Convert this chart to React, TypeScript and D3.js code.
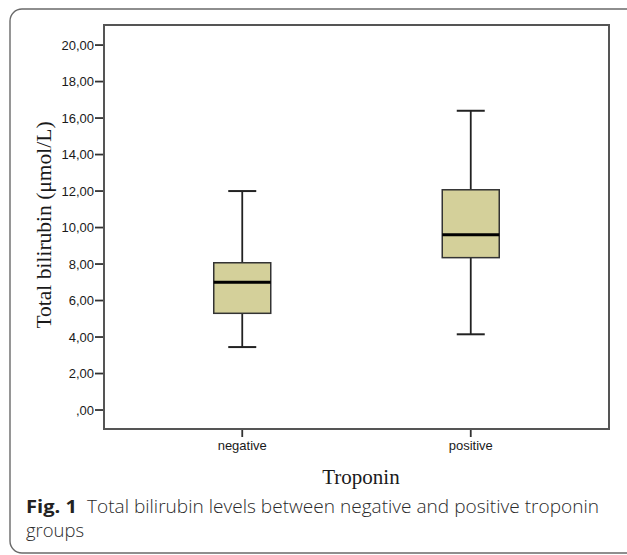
import React from "react";
import * as d3 from "d3";

const categories = ["negative", "positive"];
const whiskerLow = [3.45, 4.15];
const q1 = [5.3, 8.35];
const medians = [7.0, 9.6];
const q3 = [8.07, 12.07];
const whiskerHigh = [12.0, 16.4];
const yTicks = [0, 2, 4, 6, 8, 10, 12, 14, 16, 18, 20];

const W = 627;
const H = 555;
const plot = { left: 104, right: 609, top: 25, bottom: 429 };

const fmt = (v: number) => {
  const s = v.toFixed(2).replace(".", ",");
  return s.startsWith("0,") ? s.slice(1) : s;
};

export default function App() {
  const y = d3.scaleLinear().domain([-1.04, 21.1]).range([plot.bottom, plot.top]);
  const x = d3
    .scalePoint<string>()
    .domain(categories)
    .range([plot.left, plot.right])
    .padding(0.605);
  const boxW = 57;
  const capW = 28;
  const sans = "Arial, 'Liberation Sans', sans-serif";
  const serif = "'Times New Roman', 'Liberation Serif', serif";
  const cap = "'Open Sans', 'Noto Sans', sans-serif";

  return (
    <svg
      width={W}
      height={H}
      style={{ position: "absolute", left: 0, top: 0, background: "#fff" }}
    >
      <rect x={10} y={9} width={650} height={544} rx={12} fill="none" stroke="#6a6a6a" strokeWidth={1.4} />

      {/* y ticks */}
      {yTicks.map((t) => (
        <g key={t}>
          <line x1={plot.left - 9} x2={plot.left} y1={y(t)} y2={y(t)} stroke="#333" strokeWidth={1.8} />
          <text x={plot.left - 10} y={y(t)} dy="0.36em" textAnchor="end" fontFamily={sans} fontSize={13} fill="#1a1a1a">
            {fmt(t)}
          </text>
        </g>
      ))}

      {/* x ticks */}
      {categories.map((c) => (
        <g key={c}>
          <line x1={x(c)} x2={x(c)} y1={plot.bottom} y2={plot.bottom + 8} stroke="#333" strokeWidth={1.8} />
          <text x={x(c)} y={450} textAnchor="middle" fontFamily={sans} fontSize={13} fill="#1a1a1a">
            {c}
          </text>
        </g>
      ))}

      {/* boxes */}
      {categories.map((c, i) => {
        const cx = x(c)!;
        return (
          <g key={c}>
            <line x1={cx} x2={cx} y1={y(whiskerHigh[i])} y2={y(q3[i])} stroke="#222" strokeWidth={1.8} />
            <line x1={cx} x2={cx} y1={y(q1[i])} y2={y(whiskerLow[i])} stroke="#222" strokeWidth={1.8} />
            <line x1={cx - capW / 2} x2={cx + capW / 2} y1={y(whiskerHigh[i])} y2={y(whiskerHigh[i])} stroke="#222" strokeWidth={2} />
            <line x1={cx - capW / 2} x2={cx + capW / 2} y1={y(whiskerLow[i])} y2={y(whiskerLow[i])} stroke="#222" strokeWidth={2} />
            <rect
              x={cx - boxW / 2}
              y={y(q3[i])}
              width={boxW}
              height={y(q1[i]) - y(q3[i])}
              fill="#d4d09a"
              stroke="#333"
              strokeWidth={1.5}
            />
            <line x1={cx - boxW / 2} x2={cx + boxW / 2} y1={y(medians[i])} y2={y(medians[i])} stroke="#000" strokeWidth={3} />
          </g>
        );
      })}

      {/* plot frame */}
      <rect
        x={plot.left}
        y={plot.top}
        width={plot.right - plot.left}
        height={plot.bottom - plot.top}
        fill="none"
        stroke="#555"
        strokeWidth={2}
      />

      {/* axis titles */}
      <text
        transform={`translate(51,225) rotate(-90)`}
        textAnchor="middle"
        fontFamily={serif}
        fontSize={21.5}
        fill="#1a1a1a"
      >
        Total bilirubin (μmol/L)
      </text>
      <text x={361} y={484} textAnchor="middle" fontFamily={serif} fontSize={21} fill="#1a1a1a">
        Troponin
      </text>

      {/* caption */}
      <text x={26} y={513} fontFamily={cap} fontSize={18} fill="#222" fontWeight="bold" textLength={51} lengthAdjust="spacingAndGlyphs">
        Fig. 1
      </text>
      <text x={87} y={513} fontFamily={cap} fontSize={18} fill="#2a2a2a" fontWeight={300} textLength={512} lengthAdjust="spacingAndGlyphs">
        Total bilirubin levels between negative and positive troponin
      </text>
      <text x={26} y={537} fontFamily={cap} fontSize={18} fill="#2a2a2a" fontWeight={300} textLength={58} lengthAdjust="spacingAndGlyphs">
        groups
      </text>
    </svg>
  );
}
